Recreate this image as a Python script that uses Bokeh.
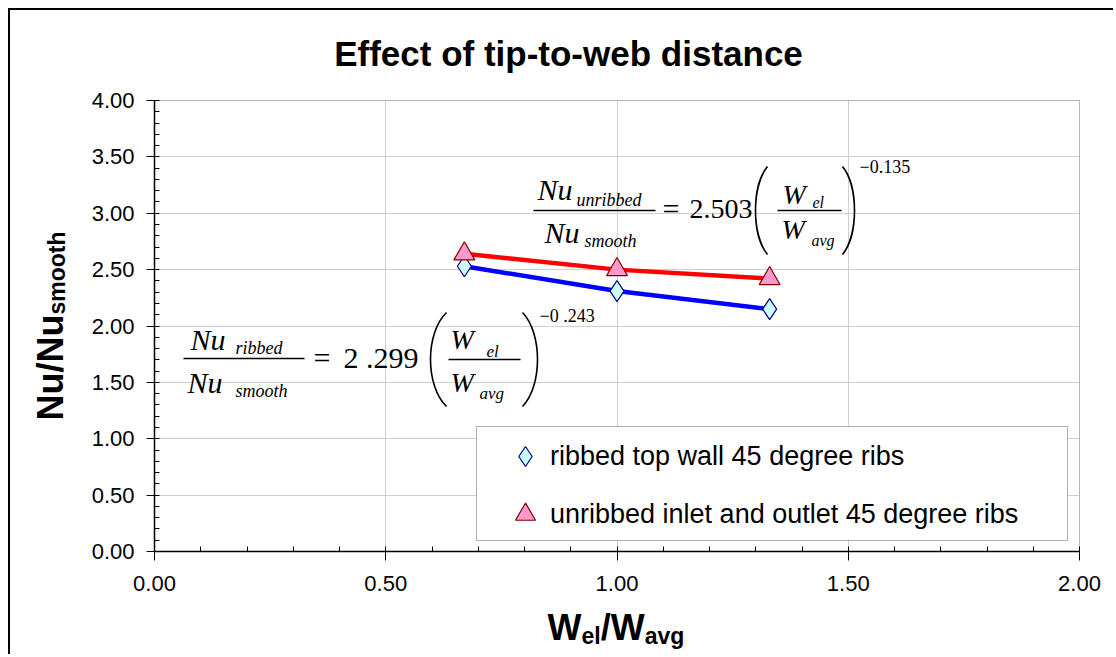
import numpy as np
from bokeh.plotting import figure
from bokeh.models import (Range1d, SingleIntervalTicker, PrintfTickFormatter, Label,
                          Legend, LegendItem, BoxAnnotation, Grid)
from bokeh.embed import file_html
from bokeh.resources import INLINE

# ---------------- data ----------------
w_ratio = [0.67, 1.00, 1.33]
nu_ribbed = [2.53, 2.31, 2.15]
nu_unribbed = [2.64, 2.50, 2.42]
series_names = ["ribbed top wall 45 degree ribs", "unribbed inlet and outlet 45 degree ribs"]
title_text = "Effect of tip-to-web distance"
x_bounds = (0.0, 2.0)
y_bounds = (0.0, 4.0)

# ---------------- layout ----------------
OFF = 11               # page position of the canvas origin (margin + border)
W, H = 1105, 646
# page pixels of the plotting area (0..2 by 0..4)
PL, PR, PT, PB = 155, 1080, 101, 552


def px(page_x):
    return x_bounds[0] + (page_x - PL) / (PR - PL) * (x_bounds[1] - x_bounds[0])


def py(page_y):
    return y_bounds[0] + (PB - page_y) / (PB - PT) * (y_bounds[1] - y_bounds[0])


# the frame covers the whole canvas so that titles drawn as labels are not clipped
p = figure(width=W, height=H,
           x_range=Range1d(px(OFF), px(OFF + W)), y_range=Range1d(py(OFF + H), py(OFF)),
           output_backend="svg", toolbar_location=None,
           min_border_left=0, min_border_right=0, min_border_top=0, min_border_bottom=0)
p.background_fill_color = "white"
p.border_fill_color = "white"
p.outline_line_color = None
p.styles = {"margin-left": "8px", "margin-top": "8px",
            "border-top": "2px solid black", "border-left": "2px solid black"}

for ax, b in ((p.xaxis[0], x_bounds), (p.yaxis[0], y_bounds)):
    ax.fixed_location = 0
    ax.bounds = b
    ax.ticker = SingleIntervalTicker(interval=0.5, num_minor_ticks=5)
    ax.formatter = PrintfTickFormatter(format="%.2f")
    ax.axis_line_color = "black"
    ax.axis_line_width = 1.5
    ax.major_tick_line_color = "black"
    ax.minor_tick_line_color = "black"
    ax.major_tick_line_width = 1
    ax.minor_tick_line_width = 1
    ax.major_tick_in = 0
    ax.minor_tick_out = 0
    ax.minor_tick_in = 5
    ax.major_label_text_font = "Liberation Sans"
    ax.major_label_text_font_size = "22px"
    ax.major_label_text_color = "black"
p.xaxis.major_tick_out = 9
p.yaxis.major_tick_out = 8
p.xaxis.major_label_standoff = 15
p.yaxis.major_label_standoff = 12

has_cross = "cross_bounds" in Grid.properties()
p.xgrid.ticker = SingleIntervalTicker(interval=0.5)
p.ygrid.ticker = SingleIntervalTicker(interval=0.5)
p.xgrid.bounds = x_bounds
p.ygrid.bounds = y_bounds
if has_cross:
    p.xgrid.cross_bounds = y_bounds
    p.ygrid.cross_bounds = x_bounds
p.grid.grid_line_color = "#cfcfcf"
p.grid.grid_line_width = 1

# grey outline of the plotting area
p.add_layout(BoxAnnotation(left=x_bounds[0], right=x_bounds[1], bottom=y_bounds[0], top=y_bounds[1],
                           fill_alpha=0, line_color="#808080", line_width=1, level="underlay"))

# ---------------- series ----------------
p.line(w_ratio, nu_ribbed, line_color="#0000ff", line_width=4.5)
s1 = p.scatter(w_ratio, nu_ribbed, marker="diamond", size=21,
               fill_color="#ccffff", line_color="#000080", line_width=1.2)
p.line(w_ratio, nu_unribbed, line_color="#ff0000", line_width=4.5)
s2 = p.scatter(w_ratio, nu_unribbed, marker="triangle", size=21,
               fill_color="#ff99cc", line_color="#800000", line_width=1.2)

# ---------------- legend ----------------
p.add_layout(BoxAnnotation(left=px(477), right=px(1068), top=py(427), bottom=py(541),
                           fill_color="white", fill_alpha=1.0, line_color="black", line_width=1))
legend = Legend(items=[LegendItem(label=series_names[0], renderers=[s1]),
                       LegendItem(label=series_names[1], renderers=[s2])],
                location=(501 - OFF, OFF + H - 540), padding=0, margin=0, spacing=8,
                glyph_width=50, glyph_height=50, label_height=31, label_standoff=0,
                label_text_font="Liberation Sans", label_text_font_size="27px",
                label_text_color="black",
                background_fill_alpha=0, border_line_alpha=0)
p.add_layout(legend)

# ---------------- texts ----------------
SANS = "Liberation Sans"
SERIF = "Liberation Serif"
MID = 0.34   # distance from baseline to the middle of the em box, in em


def lab(text, x, y, size, font=SANS, style="normal", align="left", rotated=False):
    """Text placed by its page baseline."""
    if rotated:
        lx, ly, ang = x - MID * size, y, np.pi / 2
    else:
        lx, ly, ang = x, y - MID * size, 0.0
    p.add_layout(Label(x=px(lx), y=py(ly), text=text,
                       text_font=font, text_font_style=style,
                       text_font_size=f"{size}px", text_align=align,
                       text_baseline="middle", text_color="black", angle=ang))


lab(title_text, 569, 66, 35, style="bold", align="center")

# y axis title (rotated)
lab("Nu/Nu", 63, 421, 36, style="bold", rotated=True)
lab("smooth", 65, 421 - 2.944 * 36, 23, style="bold", rotated=True)

# x axis title
xs = 548
lab("W", xs, 640, 36, style="bold"); xs += 0.944 * 36
lab("el", xs, 644, 23, style="bold"); xs += 0.834 * 23
lab("/", xs, 640, 36, style="bold"); xs += 0.278 * 36
lab("W", xs, 640, 36, style="bold"); xs += 0.944 * 36
lab("avg", xs, 644, 23, style="bold")


# ---------------- equations ----------------
def frac_line(xa, xb, y):
    p.segment(x0=[px(xa)], y0=[py(y)], x1=[px(xb)], y1=[py(y)], line_color="black", line_width=1.3)


def paren(x_end, x_bulge, top, bot):
    h = bot - top
    d = (x_bulge - x_end) / 0.75
    p.bezier(x0=[px(x_end)], y0=[py(top)], x1=[px(x_end)], y1=[py(bot)],
             cx0=[px(x_end + d)], cy0=[py(top + 0.22 * h)],
             cx1=[px(x_end + d)], cy1=[py(bot - 0.22 * h)],
             line_color="black", line_width=1.6)


# unribbed equation
lab("Nu", 538, 200, 30, SERIF, "italic")
lab("unribbed", 577, 207, 18, SERIF, "italic")
frac_line(534, 656, 211)
lab("Nu", 545, 243, 30, SERIF, "italic")
lab("smooth", 585, 248, 18, SERIF, "italic")
lab("=", 663, 219, 30, SERIF)
lab("2.503", 690, 219, 28, SERIF)
paren(768, 756, 167, 255)
lab("W", 783, 205, 28, SERIF, "italic")
lab("el", 813, 208, 16, SERIF, "italic")
frac_line(778, 842, 211)
lab("W", 782, 240, 28, SERIF, "italic")
lab("avg", 812, 246, 16, SERIF, "italic")
paren(843, 855, 167, 255)
lab("\u22120.135", 860, 173, 18, SERIF)

# ribbed equation
lab("Nu", 191, 350, 30, SERIF, "italic")
lab("ribbed", 236, 355, 18, SERIF, "italic")
frac_line(184, 305, 359)
lab("Nu", 188, 393, 30, SERIF, "italic")
lab("smooth", 236, 398, 18, SERIF, "italic")
lab("=", 314, 368, 30, SERIF)
lab("2 .299", 344, 368, 30, SERIF)
paren(447, 431, 313, 407)
lab("W", 451, 350, 28, SERIF, "italic")
lab("el", 487, 358, 17, SERIF, "italic")
frac_line(449, 521, 360)
lab("W", 451, 393, 28, SERIF, "italic")
lab("avg", 480, 400, 17, SERIF, "italic")
paren(523, 538, 313, 407)
lab("\u22120 .243", 540, 323, 18, SERIF)

open("out.html", "w").write(file_html(p, INLINE))
